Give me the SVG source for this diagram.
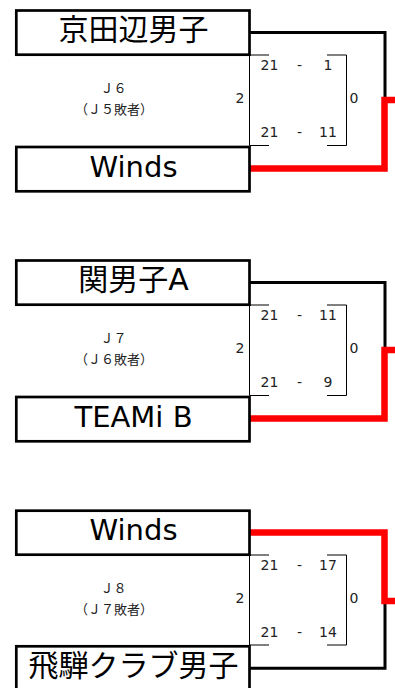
<svg xmlns="http://www.w3.org/2000/svg" width="395" height="688" viewBox="0 0 395 688">
<style>
.box{fill:#fff;stroke:#000;stroke-width:2.7}
.name{font-family:"DejaVu Sans","Noto Sans CJK JP",sans-serif;font-size:30px;text-anchor:middle;fill:#000}
.lat{font-size:29px}
.small{font-family:"Noto Sans CJK JP",sans-serif;font-size:13px;text-anchor:middle;fill:#222}
.score{font-family:"DejaVu Sans",sans-serif;font-size:14px;text-anchor:middle;fill:#222}
.thin{fill:none;stroke:#000;stroke-width:1}
.win{fill:none;stroke:#f00;stroke-width:6.5}
.lose{fill:none;stroke:#000;stroke-width:3}
</style>
<rect width="395" height="688" fill="#fff"/>
<g id="connectors">
  <path class="lose" d="M249.5 32.5 H385 V100"/>
  <path class="win" d="M249.5 168.5 H384.5 V100 H395"/>
  <path class="lose" d="M249.5 282.5 H385 V350"/>
  <path class="win" d="M249.5 418.5 H384.5 V350 H395"/>
  <path class="lose" d="M385 601 V668.3 H249.5"/>
  <path class="win" d="M249.5 532.5 H384.5 V601 H395"/>
</g>
<g id="match-J6">
  <g id="team-kyotanabe"><rect class="box" x="16.3" y="10.5" width="233.2" height="44.2"/><text class="name" x="133.5" y="40">京田辺男子</text></g>
  <g id="team-winds-1"><rect class="box" x="16.3" y="147" width="233.2" height="44.3"/><text class="name lat" x="133.5" y="176.7">Winds</text></g>
  <g id="score-J6">
    <path class="thin" d="M269 55 H249.5 V145.5 H269 M327 55 H346.5 V145.5 H327"/>
    <text class="small" x="113.5" y="93">Ｊ６</text>
    <text class="small" x="114" y="114">（Ｊ５敗者）</text>
    <text class="score" x="269.5" y="70">21</text><text class="score" x="299.5" y="70">-</text><text class="score" x="328" y="70">1</text>
    <text class="score" x="269.5" y="137">21</text><text class="score" x="299.5" y="137">-</text><text class="score" x="328" y="137">11</text>
    <text class="score" x="240" y="103">2</text><text class="score" x="354" y="103">0</text>
  </g>
</g>
<g id="match-J7" transform="translate(0,250)">
  <g id="team-seki-a"><rect class="box" x="16.3" y="10.5" width="233.2" height="44.2"/><text class="name" x="133.5" y="40">関男子A</text></g>
  <g id="team-teami-b"><rect class="box" x="16.3" y="147" width="233.2" height="44.3"/><text class="name lat" x="133.5" y="176.7">TEAMi B</text></g>
  <g id="score-J7">
    <path class="thin" d="M269 55 H249.5 V145.5 H269 M327 55 H346.5 V145.5 H327"/>
    <text class="small" x="113.5" y="93">Ｊ７</text>
    <text class="small" x="114" y="114">（Ｊ６敗者）</text>
    <text class="score" x="269.5" y="70">21</text><text class="score" x="299.5" y="70">-</text><text class="score" x="328" y="70">11</text>
    <text class="score" x="269.5" y="137">21</text><text class="score" x="299.5" y="137">-</text><text class="score" x="328" y="137">9</text>
    <text class="score" x="240" y="103">2</text><text class="score" x="354" y="103">0</text>
  </g>
</g>
<g id="match-J8" transform="translate(0,500)">
  <g id="team-winds-2"><rect class="box" x="16.3" y="10.7" width="233.2" height="44"/><text class="name lat" x="133.5" y="40">Winds</text></g>
  <g id="team-hida"><rect class="box" x="16.3" y="146.3" width="233.2" height="50"/><text class="name" x="133.5" y="176">飛騨クラブ男子</text></g>
  <g id="score-J8">
    <path class="thin" d="M269 55 H249.5 V145 H269 M327 55 H346.5 V145 H327"/>
    <text class="small" x="113.5" y="93">Ｊ８</text>
    <text class="small" x="114" y="114">（Ｊ７敗者）</text>
    <text class="score" x="269.5" y="70">21</text><text class="score" x="299.5" y="70">-</text><text class="score" x="328" y="70">17</text>
    <text class="score" x="269.5" y="137">21</text><text class="score" x="299.5" y="137">-</text><text class="score" x="328" y="137">14</text>
    <text class="score" x="240" y="103">2</text><text class="score" x="354" y="103">0</text>
  </g>
</g>
</svg>
